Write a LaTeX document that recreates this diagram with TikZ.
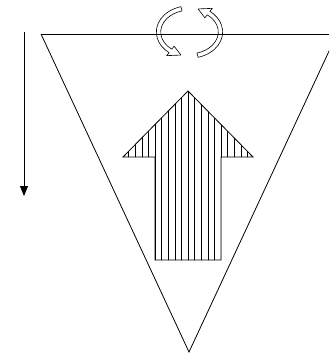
\documentclass[tikz,border=0pt]{standalone}
\usetikzlibrary{arrows.meta}

\tikzset{
  edge/.style={line width=0.8pt},
  hatch/.style={line width=0.6pt},
  turn/.style={line width=0.6pt, line join=round},
}

\begin{document}
\begin{tikzpicture}[x=1pt,y=1pt,yscale=-1,xscale=1]
\useasboundingbox (0,0) rectangle (329,358);
\clip (0,0) rectangle (329,358);

%Triangle
\coordinate (tl) at (41,34);
\coordinate (tr) at (337,34);
\coordinate (apex) at (189,352);
\coordinate (edgeR) at (329,34);
\draw[edge] (tl) -- (apex) -- (tr);
\draw[edge] (tl) -- (edgeR);

%Down arrow at left
\coordinate (down0) at (24,32);
\coordinate (down1) at (24,196);
\draw[edge,-{Triangle[width=8pt,length=10pt]}] (down0) -- (down1);

%Rotation arrows
\foreach \r in {0,180}{
  \draw[turn, rotate around={\r:(189.5,32)}]
    ({189.5+33.2*cos(255)},{32+26.2*sin(255)})
    arc[start angle=255,end angle=128,x radius=33.2,y radius=26.2]
    -- ({189.5+37*cos(128)},{32+30*sin(128)})
    -- ({189.5+31*cos(106)},{32+24*sin(106)})
    -- ({189.5+25*cos(128)},{32+18*sin(128)})
    -- ({189.5+28.8*cos(128)},{32+21.8*sin(128)})
    arc[start angle=128,end angle=255,x radius=28.8,y radius=21.8]
    -- cycle;
}

%Hatched up arrow
\coordinate (tip) at (188,91);
\coordinate (wingR) at (253,157);
\coordinate (shaftR) at (221,157);
\coordinate (baseR) at (221,260);
\coordinate (baseL) at (155,260);
\coordinate (shaftL) at (155,157);
\coordinate (wingL) at (123,157);
\begin{scope}
  \clip (tip) -- (wingR) -- (shaftR) -- (baseR) -- (baseL) -- (shaftL) -- (wingL) -- cycle;
  \foreach \i in {-5,...,15}
    \draw[hatch] ({155+\i*6.6},85) -- ++(0,180);
\end{scope}
\draw[edge, line join=miter] (tip) -- (wingR) -- (shaftR) -- (baseR) -- (baseL) -- (shaftL) -- (wingL) -- cycle;
\end{tikzpicture}
\end{document}
